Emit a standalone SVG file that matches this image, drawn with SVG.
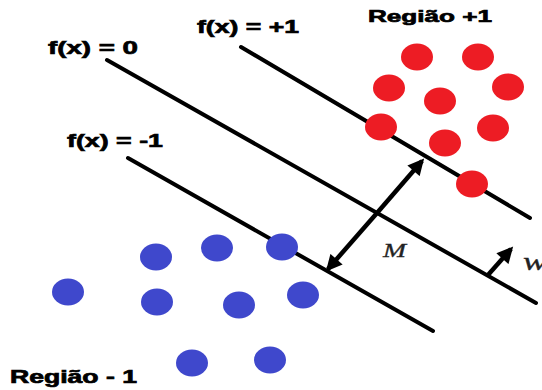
<svg xmlns="http://www.w3.org/2000/svg" width="542" height="390" viewBox="0 0 542 390">
<style>
.lbl{font-family:"Liberation Sans",Arial,sans-serif;font-weight:bold;fill:#000;stroke:#000;stroke-width:0.7}
.math{font-family:"Liberation Serif","Times New Roman",serif;font-style:italic;fill:#222;stroke:#222;stroke-width:0.3}
.hp{stroke:#000;stroke-width:4;stroke-linecap:round;fill:none}
.arr{stroke:#000;stroke-width:4.5;fill:none}
.pos{fill:#ED1C24}
.neg{fill:#3F48CC}
</style>
<defs>
<marker id="ah" viewBox="0 0 10 10" refX="8" refY="5" markerWidth="3.8" markerHeight="3.6" orient="auto" markerUnits="strokeWidth">
<path d="M0,0 L10,5 L0,10 z" fill="#000"/>
</marker>
</defs>
<rect width="542" height="390" fill="#fff"/>
<g id="connectors">
<line id="hp-plus" class="hp" x1="241" y1="47" x2="530" y2="218"/>
<line id="hp-zero" class="hp" x1="107" y1="60" x2="536" y2="303"/>
<line id="hp-minus" class="hp" x1="128" y1="158" x2="433" y2="331"/>
<line id="margin-up" class="arr" x1="377" y1="213" x2="422" y2="161" marker-end="url(#ah)"/>
<line id="margin-down" class="arr" x1="377" y1="213" x2="328" y2="269" marker-end="url(#ah)"/>
<line id="w-arrow" class="arr" x1="488" y1="275" x2="511" y2="249" marker-end="url(#ah)"/>
</g>
<g id="labels">
<text class="lbl" x="48" y="54" font-size="19" textLength="90" lengthAdjust="spacingAndGlyphs">f(x) = 0</text>
<text class="lbl" x="197" y="33" font-size="19" textLength="102" lengthAdjust="spacingAndGlyphs">f(x) = +1</text>
<text class="lbl" x="67" y="147" font-size="19" textLength="96" lengthAdjust="spacingAndGlyphs">f(x) = -1</text>
<text class="lbl" x="368" y="22" font-size="17" textLength="124" lengthAdjust="spacingAndGlyphs">Região +1</text>
<text class="lbl" x="10" y="383" font-size="18" textLength="127" lengthAdjust="spacingAndGlyphs">Região - 1</text>
<text class="math" x="383" y="257" font-size="19" textLength="23" lengthAdjust="spacingAndGlyphs">M</text>
<text class="math" x="523" y="270" font-size="25" textLength="24" lengthAdjust="spacingAndGlyphs">w</text>
</g>
<g id="region-plus">
<ellipse class="pos" cx="417" cy="57" rx="16" ry="13.5"/>
<ellipse class="pos" cx="478" cy="57" rx="16" ry="13.5"/>
<ellipse class="pos" cx="389" cy="88" rx="16" ry="13.5"/>
<ellipse class="pos" cx="508" cy="87" rx="16" ry="13.5"/>
<ellipse class="pos" cx="440" cy="101" rx="16" ry="13.5"/>
<ellipse class="pos" cx="381" cy="127" rx="16" ry="13.5"/>
<ellipse class="pos" cx="493" cy="128" rx="16" ry="13.5"/>
<ellipse class="pos" cx="445" cy="143" rx="16" ry="13.5"/>
<ellipse class="pos" cx="472" cy="184" rx="16" ry="13.5"/>
</g>
<g id="region-minus">
<ellipse class="neg" cx="68" cy="292" rx="16" ry="13.5"/>
<ellipse class="neg" cx="156" cy="257" rx="16" ry="13.5"/>
<ellipse class="neg" cx="217" cy="248" rx="16" ry="13.5"/>
<ellipse class="neg" cx="282" cy="247" rx="16" ry="13.5"/>
<ellipse class="neg" cx="157" cy="302" rx="16" ry="13.5"/>
<ellipse class="neg" cx="239" cy="305" rx="16" ry="13.5"/>
<ellipse class="neg" cx="303" cy="295" rx="16" ry="13.5"/>
<ellipse class="neg" cx="192" cy="363" rx="16" ry="13.5"/>
<ellipse class="neg" cx="270" cy="360" rx="16" ry="13.5"/>
</g>
</svg>
